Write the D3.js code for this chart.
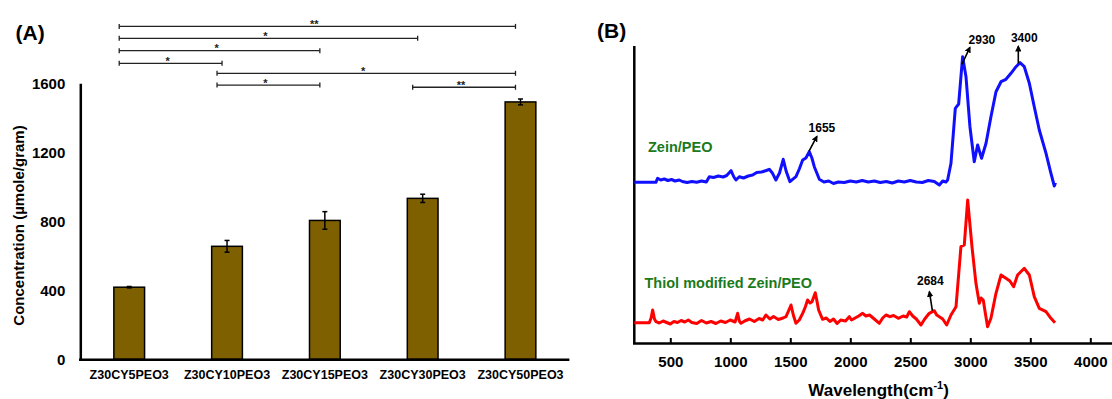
<!DOCTYPE html>
<html>
<head>
<meta charset="utf-8">
<script src="https://cdn.jsdelivr.net/npm/d3@7"></script>
<style>
body { margin: 0; background: #fff; }
svg text { font-family: "Liberation Sans", Arial, sans-serif; font-weight: bold; }
</style>
</head>
<body>
<div id="chart"></div>
<script>
var width = 1112,
    height = 399;

// ---- panel A : thiol content per formulation
var categories = ["Z30CY5PEO3", "Z30CY10PEO3", "Z30CY15PEO3", "Z30CY30PEO3", "Z30CY50PEO3"];
var concentration = [418, 655, 805, 933, 1492];
var concError = [4, 34, 51, 24, 17];
var concTicks = [0, 400, 800, 1200, 1600];

// significance brackets (group index from -> to, marker, drawn height in µmole/gram)
var sigFrom = [0, 0, 0, 0, 1, 1, 3];
var sigTo = [4, 3, 2, 1, 4, 2, 4];
var sigLabel = ["**", "*", "*", "*", "*", "*", "**"];
var sigHeight = [1930, 1861, 1789, 1716, 1658, 1590, 1577];

// ---- panel B : FTIR spectra [wavenumber, intensity a.u.]
var waveTicks = [500, 1000, 1500, 2000, 2500, 3000, 3500, 4000];

var zeinPEO = [
  [200, 160.7], [380, 160.7], [394, 164.7], [420, 163], [450, 164], [480, 162.5], [510, 163.5],
  [540, 162], [575, 163], [600, 161.5], [640, 160.5], [680, 161.5], [720, 160.8], [760, 162],
  [800, 161], [825, 166.3], [860, 165.5], [900, 167], [940, 166], [970, 167.5], [1006, 172.3],
  [1030, 166], [1047, 163], [1075, 166.3], [1110, 165], [1150, 167], [1186, 168], [1220, 170.5],
  [1260, 171], [1300, 172.5], [1325, 173.7], [1352, 169.7], [1380, 163], [1410, 170],
  [1441, 183.7], [1465, 172], [1497, 161.3], [1547, 166.3], [1575, 174], [1603, 183],
  [1630, 185], [1658, 191.3], [1680, 185], [1700, 176.3], [1742, 163.7], [1780, 161],
  [1820, 162], [1860, 159.5], [1900, 161], [1950, 160.5], [2000, 162], [2050, 161],
  [2100, 162.5], [2150, 161], [2200, 162], [2250, 160.5], [2300, 161.5], [2350, 160],
  [2400, 162], [2450, 161], [2500, 162.5], [2550, 161], [2600, 160.5], [2650, 162.5],
  [2700, 161.5], [2742, 158], [2770, 162], [2797, 161], [2811, 163], [2839, 179.7],
  [2875, 234.7], [2903, 239], [2936, 286.3], [2964, 266.3], [2997, 216.3], [3033, 181.3],
  [3061, 198], [3094, 184.7], [3131, 199.7], [3172, 226.3], [3214, 251.3], [3256, 261.3],
  [3297, 263.7], [3339, 269.7], [3381, 276.3], [3414, 280.3], [3450, 276.3], [3492, 259.7],
  [3533, 236.3], [3575, 213], [3631, 189.7], [3672, 169.7], [3700, 157], [3710, 160.3]
];

var thiolZeinPEO = [
  [200, 20.3], [325, 20.3], [340, 25], [353, 33], [368, 24], [381, 21.3], [408, 20],
  [440, 22], [470, 20.5], [500, 19], [530, 21.5], [560, 20.5], [590, 22.5], [620, 21],
  [650, 23], [680, 20.5], [720, 19.5], [760, 22.5], [800, 20], [840, 21.5], [880, 19.5],
  [920, 22], [960, 20.5], [1000, 23], [1040, 21], [1061, 29.7], [1075, 22], [1089, 19.7],
  [1120, 22], [1160, 24], [1200, 21.5], [1240, 24.5], [1270, 23], [1297, 28], [1330, 24],
  [1360, 26.5], [1400, 23.5], [1440, 25], [1464, 26.3], [1485, 32], [1506, 38], [1525, 28],
  [1547, 19.7], [1575, 23], [1603, 29.7], [1625, 36], [1644, 43], [1665, 40], [1681, 41.3],
  [1708, 50.3], [1722, 42], [1736, 33], [1769, 23.7], [1800, 25], [1830, 21.5], [1860, 24],
  [1890, 19.5], [1920, 23], [1960, 22], [1992, 26.3], [2010, 23], [2040, 25], [2070, 27],
  [2103, 29.7], [2130, 27], [2160, 28], [2200, 24], [2242, 19.7], [2270, 25], [2297, 28],
  [2330, 26.3], [2360, 27.5], [2400, 24.7], [2440, 27], [2470, 26], [2492, 31.3], [2520, 27],
  [2550, 24], [2589, 18], [2620, 24], [2658, 29.7], [2700, 32.3], [2720, 28], [2742, 26.3],
  [2770, 24], [2803, 18], [2839, 28], [2881, 36.3], [2922, 96.3], [2950, 98], [2978, 143],
  [3014, 96.3], [3047, 59.7], [3075, 39.7], [3090, 45], [3108, 43], [3125, 30], [3144, 16.3],
  [3172, 24.7], [3214, 49.7], [3256, 68], [3297, 64.7], [3330, 62], [3361, 56.3], [3394, 68],
  [3450, 74.7], [3492, 68], [3533, 46.3], [3575, 34.7], [3631, 31.3], [3672, 24.7], [3706, 20.3]
];

var zeinPeaks = [1655, 2930, 3400];
var thiolPeaks = [2684];

// arrow look for each peak label: [dx, dy] of arrow head, text offset from head
var arrowStyle = {
  1655: { dx: 8, dy: -15, tx: 5, ty: -4 },
  2930: { dx: 8, dy: -17, tx: 12, ty: -3 },
  3400: { dx: 0, dy: -17, tx: 6, ty: -4 },
  2684: { dx: -3, dy: -19, tx: 1, ty: -7 }
};

var svg = d3.select("#chart").append("svg")
    .attr("width", width)
    .attr("height", height)
    .style("background", "#fff");

svg.append("defs").append("marker")
    .attr("id", "head")
    .attr("viewBox", "0 0 10 10")
    .attr("refX", 8)
    .attr("refY", 5)
    .attr("markerWidth", 4)
    .attr("markerHeight", 4)
    .attr("orient", "auto")
  .append("path")
    .attr("d", "M0,0L10,5L0,10z")
    .attr("fill", "#000");

/* ================= panel A ================= */
var xA = d3.scaleBand()
    .domain(categories)
    .range([80.3, 569.4])
    .paddingInner(0.686)
    .paddingOuter(0.343);

var yA = d3.scaleLinear()
    .domain([0, 1600])
    .range([359.3, 83.3]);

var gA = svg.append("g");

var barData = categories.map(function(c, i) {
  return { cat: c, v: concentration[i], e: concError[i] };
});

gA.selectAll("rect.bar")
    .data(barData)
  .enter().append("rect")
    .attr("class", "bar")
    .attr("x", function(d) { return xA(d.cat); })
    .attr("y", function(d) { return yA(d.v); })
    .attr("width", xA.bandwidth())
    .attr("height", function(d) { return yA(0) - yA(d.v); })
    .attr("fill", "#7f6000")
    .attr("stroke", "#000")
    .attr("stroke-width", 1.5);

// error bars
var eb = gA.selectAll("g.err")
    .data(barData)
  .enter().append("g")
    .attr("class", "err")
    .attr("transform", function(d) { return "translate(" + (xA(d.cat) + xA.bandwidth() / 2) + ",0)"; });

eb.append("line")
    .attr("y1", function(d) { return yA(d.v - d.e); })
    .attr("y2", function(d) { return yA(d.v + d.e); })
    .attr("stroke", "#000").attr("stroke-width", 1.5);
eb.append("line")
    .attr("x1", -2.5).attr("x2", 2.5)
    .attr("y1", function(d) { return yA(d.v + d.e); })
    .attr("y2", function(d) { return yA(d.v + d.e); })
    .attr("stroke", "#000").attr("stroke-width", 1.5);
eb.append("line")
    .attr("x1", -2.5).attr("x2", 2.5)
    .attr("y1", function(d) { return yA(d.v - d.e); })
    .attr("y2", function(d) { return yA(d.v - d.e); })
    .attr("stroke", "#000").attr("stroke-width", 1.5);

// axes
var axisA = gA.append("g")
    .attr("transform", "translate(80.3,0)")
    .call(d3.axisLeft(yA).tickValues(concTicks).tickSize(0).tickPadding(15).tickFormat(d3.format("d")));
axisA.select(".domain").attr("stroke", "#000").attr("stroke-width", 2.5);
axisA.selectAll("text").attr("font-size", 15).attr("fill", "#000")
    .style("font-family", "'Liberation Sans', Arial, sans-serif");

var axisAx = gA.append("g")
    .attr("transform", "translate(0,359.3)")
    .call(d3.axisBottom(xA).tickSize(0).tickPadding(11));
axisAx.select(".domain").attr("stroke", "#000").attr("stroke-width", 2.5)
    .attr("d", "M79," + 0.5 + "H569.4");
axisAx.selectAll("text").attr("font-size", 12.5).attr("fill", "#000")
    .style("font-family", "'Liberation Sans', Arial, sans-serif");

gA.append("text")
    .attr("transform", "translate(23.8,225.5) rotate(-90)")
    .attr("text-anchor", "middle")
    .attr("font-size", 15)
    .text("Concentration (µmole/gram)");

gA.append("text")
    .attr("x", 15.5).attr("y", 40)
    .attr("font-size", 21)
    .text("(A)");

// significance brackets
var sig = sigFrom.map(function(f, i) {
  return {
    x1: xA(categories[f]) + xA.bandwidth() / 2 - 10,
    x2: xA(categories[sigTo[i]]) + xA.bandwidth() / 2 - 5,
    y: yA(sigHeight[i]),
    label: sigLabel[i]
  };
});

var sg = gA.selectAll("g.sig")
    .data(sig)
  .enter().append("g")
    .attr("class", "sig");

sg.append("line")
    .attr("x1", function(d) { return d.x1; })
    .attr("x2", function(d) { return d.x2; })
    .attr("y1", function(d) { return d.y; })
    .attr("y2", function(d) { return d.y; })
    .attr("stroke", "#222").attr("stroke-width", 1.3);
sg.append("line")
    .attr("x1", function(d) { return d.x1; })
    .attr("x2", function(d) { return d.x1; })
    .attr("y1", function(d) { return d.y - 2.5; })
    .attr("y2", function(d) { return d.y + 2.5; })
    .attr("stroke", "#222").attr("stroke-width", 1.3);
sg.append("line")
    .attr("x1", function(d) { return d.x2; })
    .attr("x2", function(d) { return d.x2; })
    .attr("y1", function(d) { return d.y - 2.5; })
    .attr("y2", function(d) { return d.y + 2.5; })
    .attr("stroke", "#222").attr("stroke-width", 1.3);
sg.append("text")
    .attr("x", function(d) { return (d.x1 + d.x2) / 2 - 3; })
    .attr("y", function(d) { return d.y + 1.5; })
    .attr("text-anchor", "middle")
    .attr("font-size", 11)
    .attr("fill", "#222")
    .text(function(d) { return d.label; });

/* ================= panel B ================= */
var xB = d3.scaleLinear()
    .domain([200, 4175])
    .range([634.3, 1111.3]);

var yB = d3.scaleLinear()
    .domain([0, 297])
    .range([343, 46]);

var gB = svg.append("g");

gB.append("line")
    .attr("x1", 634.3).attr("x2", 634.3)
    .attr("y1", yB(297)).attr("y2", yB(0))
    .attr("stroke", "#000").attr("stroke-width", 2.5);

var axisB = gB.append("g")
    .attr("transform", "translate(0," + yB(0) + ")")
    .call(d3.axisBottom(xB).tickValues(waveTicks).tickSizeInner(-5).tickSizeOuter(0).tickPadding(13).tickFormat(d3.format("d")));
axisB.select(".domain").attr("stroke", "#000").attr("stroke-width", 2.5)
    .attr("d", "M633,0.5H1112");
axisB.selectAll(".tick line").attr("stroke", "#000").attr("stroke-width", 2);
axisB.selectAll("text").attr("font-size", 15).attr("fill", "#000")
    .style("font-family", "'Liberation Sans', Arial, sans-serif");

var line = d3.line()
    .x(function(d) { return xB(d[0]); })
    .y(function(d) { return yB(d[1]); });

gB.append("path")
    .datum(zeinPEO)
    .attr("d", line)
    .attr("fill", "none")
    .attr("stroke", "#1010ff")
    .attr("stroke-width", 3)
    .attr("stroke-linejoin", "round");

gB.append("path")
    .datum(thiolZeinPEO)
    .attr("d", line)
    .attr("fill", "none")
    .attr("stroke", "#ff0000")
    .attr("stroke-width", 3)
    .attr("stroke-linejoin", "round");

gB.append("text")
    .attr("x", 648).attr("y", 151.7)
    .attr("font-size", 14.5)
    .attr("fill", "#1b7a1b")
    .text("Zein/PEO");

gB.append("text")
    .attr("x", 644.5).attr("y", 288)
    .attr("font-size", 14.5)
    .attr("fill", "#1b7a1b")
    .text("Thiol modified Zein/PEO");

// value of a spectrum at a wavenumber (linear between read points)
function valueAt(series, w) {
  var i = d3.bisector(function(d) { return d[0]; }).left(series, w);
  if (i <= 0) return series[0][1];
  if (i >= series.length) return series[series.length - 1][1];
  var a = series[i - 1], b = series[i];
  return a[1] + (b[1] - a[1]) * (w - a[0]) / (b[0] - a[0]);
}

function peakLabel(series, w) {
  var s = arrowStyle[w];
  var x0 = xB(w), y0 = yB(valueAt(series, w)) - 1;
  var x1 = x0 + s.dx, y1 = y0 + s.dy;
  gB.append("line")
      .attr("x1", x0).attr("y1", y0)
      .attr("x2", x1).attr("y2", y1)
      .attr("stroke", "#000").attr("stroke-width", 1.6)
      .attr("marker-end", "url(#head)");
  gB.append("text")
      .attr("x", x1 + s.tx).attr("y", y1 + s.ty)
      .attr("text-anchor", "middle")
      .attr("font-size", 12)
      .text(w);
}

zeinPeaks.forEach(function(w) { peakLabel(zeinPEO, w); });
thiolPeaks.forEach(function(w) { peakLabel(thiolZeinPEO, w); });

var xt = gB.append("text")
    .attr("x", 878.6).attr("y", 396)
    .attr("text-anchor", "middle")
    .attr("font-size", 17);
xt.append("tspan").text("Wavelength(cm");
xt.append("tspan").attr("dy", -7).attr("font-size", 11).text("-1");
xt.append("tspan").attr("dy", 7).text(")");

gB.append("text")
    .attr("x", 597).attr("y", 38)
    .attr("font-size", 21)
    .text("(B)");
</script>
</body>
</html>
